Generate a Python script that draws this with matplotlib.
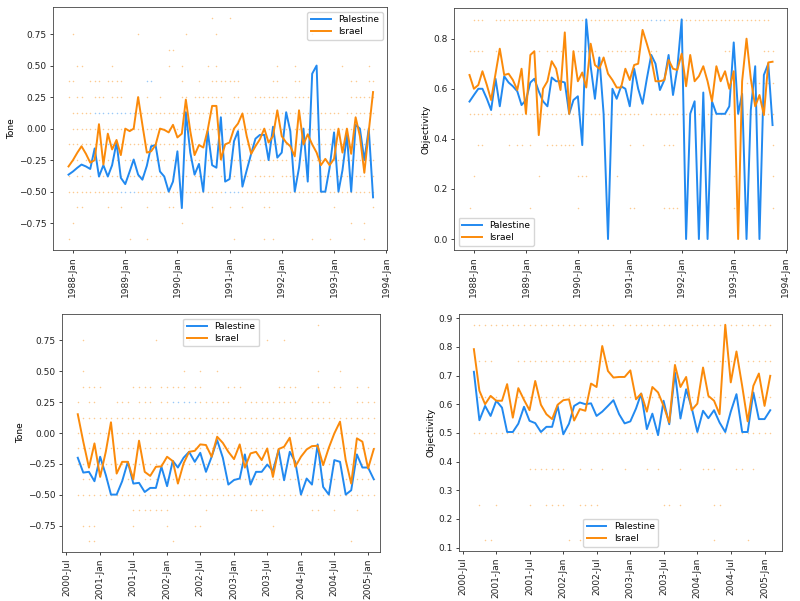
import matplotlib
matplotlib.use("Agg")
import matplotlib.pyplot as plt
import matplotlib.dates as mdates
import pandas as pd

# first intifada, monthly means Dec 1987 - Oct 1993
months_1 = pd.date_range("1987-12-01", periods=71, freq="MS")
tone_pal_1 = [-0.365, -0.34, -0.31, -0.285, -0.30, -0.32, -0.157, -0.38, -0.29, -0.38,
              -0.29, -0.11, -0.39, -0.44, -0.34, -0.245, -0.365, -0.405, -0.295, -0.14,
              -0.13, -0.34, -0.38, -0.50, -0.42, -0.18, -0.63, 0.13, -0.19, -0.365,
              -0.28, -0.50, -0.02, -0.29, -0.31, 0.09, -0.42, -0.40, -0.10, -0.02,
              -0.46, -0.33, -0.20, -0.08, -0.05, -0.05, -0.25, 0.015, -0.23, -0.19,
              0.13, -0.02, -0.50, -0.31, 0.0, -0.42, 0.435, 0.50, -0.50, -0.50,
              -0.31, -0.03, -0.50, -0.33, -0.05, -0.50, 0.03, 0.0, -0.25, 0.0, -0.545]
tone_isr_1 = [-0.30, -0.25, -0.19, -0.14, -0.20, -0.27, -0.25, 0.035, -0.285, -0.04,
              -0.165, -0.09, -0.21, 0.0, -0.02, 0.0, 0.25, 0.03, -0.19, -0.18,
              -0.13, 0.0, -0.01, -0.03, 0.03, -0.07, -0.04, 0.23, -0.02, -0.21,
              -0.13, -0.15, -0.01, 0.18, 0.18, -0.245, -0.125, -0.11, 0.0, 0.04,
              0.12, -0.06, -0.20, -0.14, -0.085, 0.0, -0.11, -0.06, 0.145, -0.06,
              -0.11, -0.14, -0.22, 0.145, -0.125, -0.045, -0.125, -0.19, -0.29, -0.24,
              -0.29, -0.24, 0.0, -0.19, 0.0, -0.20, 0.09, -0.06, -0.35, -0.02, 0.29]
obj_pal_1 = [0.549, 0.575, 0.60, 0.60, 0.56, 0.515, 0.64, 0.53, 0.65, 0.625,
             0.61, 0.59, 0.535, 0.555, 0.625, 0.64, 0.59, 0.55, 0.53, 0.645,
             0.63, 0.63, 0.625, 0.50, 0.555, 0.57, 0.375, 0.877, 0.69, 0.56,
             0.725, 0.50, 0.0, 0.60, 0.56, 0.61, 0.60, 0.53, 0.68, 0.60,
             0.54, 0.64, 0.735, 0.70, 0.595, 0.635, 0.735, 0.575, 0.68, 0.877,
             0.0, 0.50, 0.55, 0.0, 0.585, 0.0, 0.55, 0.50, 0.50, 0.50,
             0.53, 0.785, 0.50, 0.58, 0.0, 0.515, 0.69, 0.0, 0.655, 0.70, 0.455]
obj_isr_1 = [0.655, 0.60, 0.615, 0.67, 0.615, 0.555, 0.66, 0.76, 0.655, 0.66,
             0.635, 0.595, 0.68, 0.50, 0.735, 0.75, 0.415, 0.60, 0.63, 0.71,
             0.68, 0.595, 0.825, 0.50, 0.75, 0.63, 0.665, 0.605, 0.78, 0.695,
             0.68, 0.725, 0.66, 0.635, 0.605, 0.605, 0.68, 0.635, 0.695, 0.70,
             0.835, 0.78, 0.72, 0.63, 0.63, 0.635, 0.715, 0.68, 0.675, 0.74,
             0.61, 0.735, 0.63, 0.65, 0.69, 0.63, 0.55, 0.69, 0.63, 0.67,
             0.60, 0.67, 0.0, 0.63, 0.80, 0.64, 0.53, 0.575, 0.495, 0.705, 0.708]

# second intifada, monthly means Sep 2000 - Feb 2005
months_2 = pd.date_range("2000-09-01", periods=54, freq="MS")
tone_pal_2 = [-0.20, -0.32, -0.314, -0.39, -0.192, -0.34, -0.498, -0.498, -0.39, -0.233,
              -0.409, -0.403, -0.477, -0.444, -0.444, -0.273, -0.43, -0.225, -0.279, -0.20,
              -0.152, -0.233, -0.16, -0.314, -0.192, -0.057, -0.20, -0.417, -0.38, -0.368,
              -0.173, -0.417, -0.314, -0.314, -0.255, -0.306, -0.138, -0.382, -0.152, -0.233,
              -0.498, -0.368, -0.417, -0.092, -0.436, -0.498, -0.219, -0.233, -0.498, -0.463,
              -0.173, -0.279, -0.279, -0.374]
tone_isr_2 = [0.152, -0.07, -0.28, -0.084, -0.355, -0.15, 0.087, -0.328, -0.233, -0.233,
              -0.374, -0.062, -0.314, -0.347, -0.273, -0.27, -0.192, -0.227, -0.409, -0.246,
              -0.152, -0.144, -0.092, -0.097, -0.192, -0.03, -0.08, -0.152, -0.211, -0.092,
              -0.28, -0.165, -0.152, -0.219, -0.125, -0.355, -0.13, -0.111, -0.038, -0.273,
              -0.192, -0.133, -0.106, -0.103, -0.26, -0.119, -0.003, 0.092, -0.219, -0.409,
              -0.043, -0.07, -0.287, -0.13]
obj_pal_2 = [0.713, 0.544, 0.594, 0.559, 0.612, 0.588, 0.503, 0.503, 0.532, 0.591,
             0.542, 0.534, 0.503, 0.521, 0.521, 0.594, 0.495, 0.532, 0.594, 0.606,
             0.60, 0.603, 0.559, 0.574, 0.594, 0.614, 0.565, 0.533, 0.54, 0.585,
             0.637, 0.513, 0.567, 0.492, 0.612, 0.53, 0.71, 0.55, 0.652, 0.588,
             0.503, 0.577, 0.551, 0.579, 0.536, 0.503, 0.574, 0.635, 0.503, 0.503,
             0.641, 0.548, 0.548, 0.579]
obj_isr_2 = [0.792, 0.647, 0.60, 0.629, 0.612, 0.612, 0.67, 0.553, 0.656, 0.615,
             0.579, 0.681, 0.598, 0.565, 0.548, 0.598, 0.614, 0.617, 0.543, 0.583,
             0.577, 0.672, 0.66, 0.803, 0.716, 0.693, 0.695, 0.695, 0.718, 0.617,
             0.637, 0.574, 0.66, 0.641, 0.594, 0.536, 0.737, 0.66, 0.695, 0.579,
             0.602, 0.728, 0.629, 0.612, 0.565, 0.877, 0.676, 0.784, 0.664, 0.54,
             0.664, 0.707, 0.594, 0.699]

# article level scores behind the means: one char per month, o = Israel, b = Palestine
tone_levels = [0.875, 0.75, 0.625, 0.5, 0.375, 0.25, 0.125, 0.0,
               -0.125, -0.25, -0.375, -0.5, -0.625, -0.75, -0.875]
obj_levels = [0.875, 0.75, 0.625, 0.5, 0.375, 0.25, 0.125]

tone_dots_1 = [
    ".......... .......... .......... ...o...o.. .......... .......... ...........",
    ".o........ ......o... .......o.. ....o..... .......... ......o... ...........",
    ".......... .......... ...oo..... .......... .......... .......... ...........",
    "..oo...... o......... ...o..o... ..o.o..... ........o. ..o....... ...o.....o.",
    "oo...ooo.o ooo.....bb ......o... o..ooooooo .......oo. ..oo...... .....oo..oo",
    "o.oo..ooo. ooo...o.o. .o....oo.o oooooo..oo ...ooooooo o.oooo.... .....oooooo",
    ".ooooobbbb bbbbbboooo oooooooooo oooooooooo oooooooooo oooooooooo ooo.ooooooo",
    ".ooooooooo oooooooooo oooo.ooooo oooooooooo oooooooo.o oooooooooo oooooo.oooo",
    "oooooooobb bboooooooo oooooooooo oooooooooo oooooooooo oooooooooo ooooooooooo",
    ".oo.oo.ooo oo.oo..ooo ooo.oo.ooo o.oooo.ooo ooo.oooooo o.ooooooo. oooooooo.oo",
    "o.oo.o.oo. ooo.oooo.o oo..o.oo.o oooo.oooo. oo.ooooo.o ooo.oo.ooo o.ooo.ooo.o",
    "oooooooooo oobbbboooo oooooooooo oooooobbbb oooooooooo oooooooooo ooooooooooo",
    "..oo.....o ..o.....o. ...oo..... ...o...o.. o....oo... .......... .o........o",
    ".o........ .......... ......o... .......... .......... .......... .....o..o..",
    "o......... ....o...o. .......... ........o. .....o.o.. ......o... o.......o..",
]
obj_dots_1 = [
    ".ooo..oooo oooooooooo oooooooooo oooooooooo oobbbboooo oooooooooo oooooooooo.",
    "oooo..o... ......o.oo oo..oooooo ..oooooooo ..oo...... .........o o.......ooo",
    ".......... .......... .......... .......... .......... .......... ....ooooooo",
    "oooooo.ooo oooooooooo oooooooooo oooooooooo ..oooooooo oooooooooo ooooooooooo",
    "..oo.....o .oo.o...oo ooooo..... .......o.. o....ooo.. .......... ..........o",
    ".o........ ......o... .....ooo.. ....o..... .......... .......... .o........o",
    "o......... ....o..... .....o.... .......oo. .....oooo. .......... .o........o",
]
tone_dots_2 = [
    ".......... .........o ..o....... .......... ...o...... ....",
    ".o........ ....o..... o......... ....o..o.. .......... ....",
    ".......... .......... .......... .......... .......... ....",
    ".o........ .........o ..o..o.... .......... ...o...o.. ....",
    ".oooo..... oooo.ooooo .oo....ooo ......oooo ...o..oo.. o.o.",
    "o.oo...ooo .ooo.oobbb bboooooo.. oooooooooo ..oooo.... oooo",
    ".ooooooooo oooooooooo oooooooooo oooooooooo oooooooooo oooo",
    "o.oooooooo oooooooooo oooooooooo oooooooooo oooooooooo oooo",
    "oooooooooo oooooooooo oooooooooo oooooooooo oooooooooo oooo",
    "oooooooooo oooooooooo oooooooooo oooooooooo oooooooooo oooo",
    ".ooo.oo.oo o.ooo.oooo oo.oooo.oo oooo.ooooo o.ooooo.oo oooo",
    "oooooooooo oooooooooo oooooooooo oooooooooo oooooooooo oooo",
    ".......... ooooooo... ...o...... .ooo...... ..oo..o... o...",
    ".ooo...... o.....o... .oo....... .....o.... .......... ....",
    "..oo...... .......o.. .......... .......... .........o ....",
]
obj_dots_2 = [
    "oooooooooo oooooooooo oooooo.ooo oooooooooo oooooooooo oooo",
    ".ooo....oo oooooooooo oooooo.ooo oooo.ooooo ..ooooo..o oooo",
    ".oooo...oo oooooooooo oooooo.ooo oooo..oooo oooooo...o oooo",
    "oooooooooo oooooooooo oooooooooo oooooooooo oooooooooo oooo",
    ".......... ooooooo..o .o.o...o.. .o.o...o.. .ooo...oo. o...",
    ".o..o..... o..oooo..o ooo....... ....oo.o.. ...oo..... ....",
    "..oo...... .......o.o .......... .......... ...o.....o ....",
]

PAL = "#2189f0"
ISR = "#fb8a0a"


def draw_panel(rect, months, pal, isr, levels, dot_rows, ylabel, legend_loc, xlim, locator):
    ax = fig.add_axes(rect)
    xs = {"o": [], "b": []}
    ys = {"o": [], "b": []}
    for level, row in zip(levels, dot_rows):
        row = row.replace(" ", "")
        for k, ch in enumerate(row[:len(months)]):
            if ch in xs:
                xs[ch].append(months[k])
                ys[ch].append(level)
    ax.scatter(xs["o"], ys["o"], s=1.2, color=ISR, alpha=0.45, linewidths=0, zorder=1)
    ax.scatter(xs["b"], ys["b"], s=1.2, color=PAL, alpha=0.45, linewidths=0, zorder=1)
    ax.plot(months, pal, color=PAL, lw=1.4, label="Palestine", zorder=3)
    ax.plot(months, isr, color=ISR, lw=1.4, label="Israel", zorder=3)
    ax.set_xlim(pd.Timestamp(xlim[0]), pd.Timestamp(xlim[1]))
    ax.xaxis.set_major_locator(locator)
    ax.xaxis.set_major_formatter(mdates.DateFormatter("%Y-%b"))
    ax.tick_params(labelsize=6.5, length=2.5, width=0.6, pad=2, colors="#222222")
    ax.tick_params(axis="x", labelrotation=90)
    ax.set_ylabel(ylabel, fontsize=6.5, labelpad=2)
    for sp in ax.spines.values():
        sp.set_linewidth(0.6)
        sp.set_color("#444444")
    ax.legend(loc=legend_loc, fontsize=6.5, handlelength=2.2, borderpad=0.4,
              labelspacing=0.3)
    return ax


fig = plt.figure(figsize=(8, 6.01), dpi=100)

draw_panel([0.066, 0.584, 0.418, 0.404], months_1, tone_pal_1, tone_isr_1,
           tone_levels, tone_dots_1, "Tone", "upper right",
           ("1987-08-13", "1994-01-08"), mdates.YearLocator())
draw_panel([0.5675, 0.584, 0.4165, 0.402], months_1, obj_pal_1, obj_isr_1,
           obj_levels, obj_dots_1, "Objectivity", "lower left",
           ("1987-08-14", "1994-01-12"), mdates.YearLocator())
draw_panel([0.0775, 0.0815, 0.3975, 0.396], months_2, tone_pal_2, tone_isr_2,
           tone_levels, tone_dots_2, "Tone", "upper center",
           ("2000-06-07", "2005-03-07"), mdates.MonthLocator(bymonth=[1, 7]))
draw_panel([0.574, 0.083, 0.4035, 0.3945], months_2, obj_pal_2, obj_isr_2,
           obj_levels, obj_dots_2, "Objectivity", "lower center",
           ("2000-06-13", "2005-04-06"), mdates.MonthLocator(bymonth=[1, 7]))

fig.savefig("out.png", dpi=100)
